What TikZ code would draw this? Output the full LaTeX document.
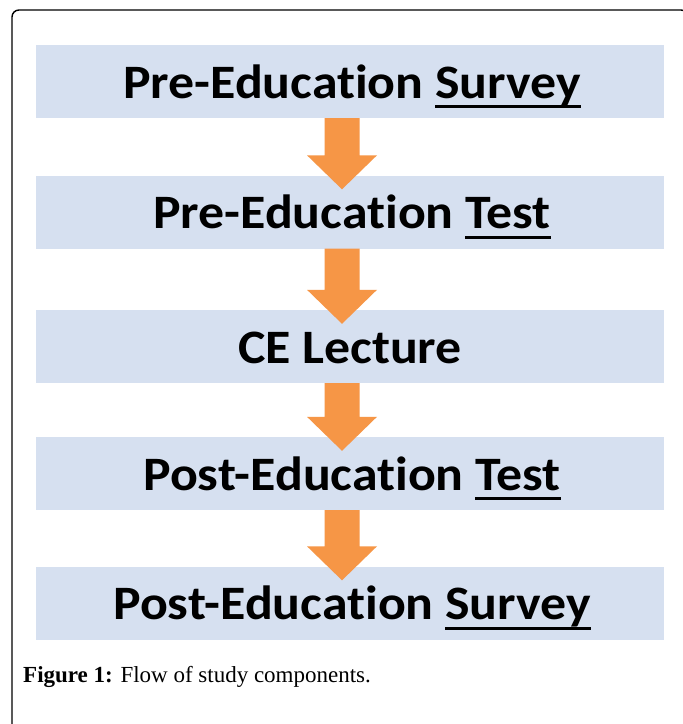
\documentclass[tikz,border=0pt]{standalone}
\usepackage{fontspec}
\setmainfont{Carlito}[Ligatures=NoCommon]
\newfontfamily\capfont{Liberation Serif}
\usetikzlibrary{calc}

\definecolor{boxblue}{RGB}{214,224,240}
\definecolor{floworange}{RGB}{246,150,70}

% underline a word with a heavy rule just below the baseline
\newcommand\heavyul[1]{\setbox0\hbox{#1}\rlap{\rule[-10pt]{\wd0}{3pt}}\box0}
% slightly widened step text
\newcommand\widetext[1]{\scalebox{1.08}[1]{#1}}

% block arrow from the bottom of one step into the top of the next
\newcommand\flowlink[2]{%
  \fill[floworange]
    ($(#1.south)+(-25.5,0)$) -- ($(#1.south)+(9.5,0)$)
    -- ($(#2.north)+(9.5,-20)$) -- ($(#2.north)+(27,-20)$)
    -- ($(#2.north)+(-8,14)$)
    -- ($(#2.north)+(-43,-20)$) -- ($(#2.north)+(-25.5,-20)$) -- cycle;}

\tikzset{
  stepbox/.style={fill=boxblue, draw=none, minimum width=628pt,
    minimum height=73pt, inner sep=0pt},
  steplabel/.style={anchor=base, inner sep=0pt, text=black,
    font=\fontsize{48pt}{52pt}\selectfont\bfseries},
}

\begin{document}
\begin{tikzpicture}[x=1pt, y=-1pt]
  \clip (0,0) rectangle (683,724);
  \fill[white] (0,0) rectangle (683,724);

  % outer frame
  \draw[line width=1.4pt, rounded corners=7pt] (12,10) rectangle (688,760);

  % steps
  \node[stepbox] (b1) at (350,81.5) {};
  \node[stepbox] (b2) at (350,212) {};
  \node[stepbox] (b3) at (350,346.5) {};
  \node[stepbox] (b4) at (350,473.5) {};
  \node[stepbox] (b5) at (350,603) {};

  % arrows between steps
  \flowlink{b1}{b2}
  \flowlink{b2}{b3}
  \flowlink{b3}{b4}
  \flowlink{b4}{b5}

  % step texts
  \node[steplabel] (t1) at ($(b1.center)+(2,16.5)$) {\widetext{Pre-Education \heavyul{Survey}}};
  \node[steplabel] (t2) at ($(b2.center)+(2,16.5)$) {\widetext{Pre-Education \heavyul{Test}}};
  \node[steplabel] (t3) at ($(b3.center)+(0,16.5)$) {\widetext{CE Lecture}};
  \node[steplabel] (t4) at ($(b4.center)+(2,16.5)$) {\widetext{Post-Education \heavyul{Test}}};
  \node[steplabel] (t5) at ($(b5.center)+(2,16.5)$) {\widetext{Post-Education \heavyul{Survey}}};

  % caption
  \node[anchor=base west, inner sep=0pt, font=\capfont\fontsize{23pt}{27pt}\selectfont]
    (cap) at (23,682) {\textbf{Figure 1:} Flow of study components.};
\end{tikzpicture}
\end{document}
